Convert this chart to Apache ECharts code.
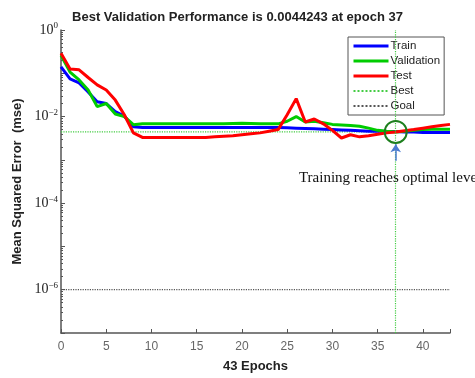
<!DOCTYPE html>
<html><head><meta charset="utf-8">
<script src="https://cdn.jsdelivr.net/npm/echarts@6/dist/echarts.min.js"></script>
<style>html,body{margin:0;padding:0;background:#fff}#c{width:475px;height:378px}</style>
</head><body><div id="c"></div>
<script>
const epochs = Array.from({length:44},(_,i)=>i);
const train = [0.14,0.074,0.06,0.037,0.022,0.02,0.013,0.0102,0.0058,0.0056,0.0056,0.0056,0.0056,0.0056,0.0056,0.0056,0.0056,0.0056,0.0056,0.0056,0.0056,0.0056,0.0056,0.0056,0.0056,0.0055,0.0054,0.0053,0.0052,0.0051,0.005,0.0049,0.0048,0.0047,0.0046,0.0046,0.0045,0.0045,0.0044,0.0044,0.0043,0.0043,0.0043,0.0043];
const validation = [0.26,0.107,0.07,0.041,0.017,0.02,0.0115,0.01,0.0065,0.0068,0.0068,0.0068,0.0068,0.0068,0.0068,0.0068,0.0068,0.0068,0.0068,0.0069,0.007,0.0069,0.0068,0.0068,0.0068,0.0078,0.01,0.0075,0.0078,0.0072,0.0066,0.0064,0.0062,0.006,0.0054,0.0048,0.0046,0.0044243,0.0046,0.0048,0.005,0.0051,0.0051,0.0051];
const test = [0.29,0.125,0.12,0.08,0.054,0.041,0.024,0.011,0.0042,0.0033,0.0033,0.0033,0.0033,0.0033,0.0033,0.0033,0.0033,0.0034,0.0035,0.0036,0.0038,0.004,0.0042,0.0046,0.005,0.011,0.026,0.0075,0.0088,0.0068,0.0048,0.0032,0.0038,0.0034,0.0036,0.0039,0.0042,0.0044,0.0047,0.005,0.0054,0.0058,0.0062,0.0066];
const bestEpoch = 37;
const bestValue = 0.0044243;
const goalValue = 1e-6;
const xTicks = [0,5,10,15,20,25,30,35,40];
const annotationText = 'Training reaches optimal level';

const pair = arr => arr.map((v,i)=>[epochs[i], v]);
const chart = echarts.init(document.getElementById('c'));
chart.setOption({
  animation:false,
  title:{text:'Best Validation Performance is '+bestValue+' at epoch '+bestEpoch,left:'center',top:6,
    textStyle:{fontFamily:'Liberation Sans',fontWeight:'bold',fontSize:13,color:'#222'}},
  grid:{left:61,right:25,top:30,bottom:44},
  legend:{orient:'vertical',left:348,top:37,padding:[3,4,3,4],itemWidth:35,itemHeight:12,itemGap:3,
    backgroundColor:'#fff',borderColor:'#555',borderWidth:1,
    itemStyle:{opacity:0},
    textStyle:{fontFamily:'Liberation Sans',fontSize:11.5,color:'#222',padding:[0,0,0,-3]},
    data:[{name:'Train',lineStyle:{width:3}},{name:'Validation',lineStyle:{width:3}},{name:'Test',lineStyle:{width:3}},'Best','Goal']},
  xAxis:{type:'value',min:0,max:43,interval:5,
    name:'43 Epochs',nameLocation:'middle',nameGap:27,
    nameTextStyle:{fontFamily:'Liberation Sans',fontWeight:'bold',fontSize:13,color:'#222'},
    axisLine:{lineStyle:{color:'#555',width:1.5}},
    axisTick:{inside:true,length:4,lineStyle:{color:'#555'}},
    splitLine:{show:false},
    axisLabel:{color:'#666',fontFamily:'Liberation Sans',fontSize:12,margin:8,
      formatter:v=>xTicks.includes(v)?String(v):''}},
  yAxis:{type:'log',logBase:10,min:1e-7,max:1,
    name:'Mean Squared Error  (mse)',nameLocation:'middle',nameGap:34,
    nameTextStyle:{fontFamily:'Liberation Sans',fontWeight:'bold',fontSize:13,color:'#222'},
    axisLine:{show:true,lineStyle:{color:'#555',width:1.5}},
    axisTick:{show:true,inside:true,length:4,lineStyle:{color:'#555'}},
    minorTick:{show:true,splitNumber:9,length:2,lineStyle:{color:'#555'}},
    splitLine:{show:false},
    axisLabel:{margin:3,formatter:v=>{const e=Math.round(Math.log10(v)); if(e%2!==0) return ''; return '{b|10}{s|'+(e===0?'0':'\u2212'+(-e))+'}';},
      rich:{b:{fontFamily:'Liberation Serif',fontSize:14,color:'#222'},
            s:{fontFamily:'Liberation Serif',fontSize:9,color:'#222',verticalAlign:'top',padding:[0,0,8,0]}}}},
  series:[
    {name:'Goal',type:'line',data:[[0,goalValue],[43,goalValue]],symbol:'none',silent:true,
      lineStyle:{color:'#555',type:'dotted',width:1.2},itemStyle:{color:'#555'}},
    {name:'Best',type:'line',data:[[0,bestValue],[bestEpoch,bestValue]],symbol:'none',silent:true,
      lineStyle:{color:'#44cc44',type:'dotted',width:1.2},itemStyle:{color:'#44cc44'},
      markLine:{silent:true,symbol:'none',label:{show:false},
        lineStyle:{color:'#44cc44',type:'dotted',width:1.2},
        data:[{xAxis:bestEpoch}]}},
    {name:'Train',type:'line',data:pair(train),symbol:'none',lineStyle:{color:'#0000ff',width:3},itemStyle:{color:'#0000ff'}},
    {name:'Validation',type:'line',data:pair(validation),symbol:'none',lineStyle:{color:'#00cc00',width:3},itemStyle:{color:'#00cc00'}},
    {name:'Test',type:'line',data:pair(test),symbol:'none',lineStyle:{color:'#ff0000',width:3},itemStyle:{color:'#ff0000'},
      markPoint:{silent:true,data:[
        {coord:[bestEpoch,bestValue],symbol:'circle',symbolSize:22,
          itemStyle:{color:'rgba(0,0,0,0)',borderColor:'#1d7f1d',borderWidth:2},label:{show:false}},
        {coord:[26.3,3.8e-4],symbol:'circle',symbolSize:0,
          label:{show:true,position:'right',distance:0,formatter:annotationText,
            fontFamily:'Liberation Serif',fontSize:15,color:'#111'}}]},
      markLine:{silent:true,symbol:['none','arrow'],symbolSize:10,label:{show:false},
        lineStyle:{color:'#4a7bd0',type:'solid',width:1.5},
        data:[[{coord:[bestEpoch,9.5e-4],symbol:'none'},{coord:[bestEpoch,2.3e-3],symbol:'arrow',symbolSize:8}]]}}
  ]
});
</script></body></html>
